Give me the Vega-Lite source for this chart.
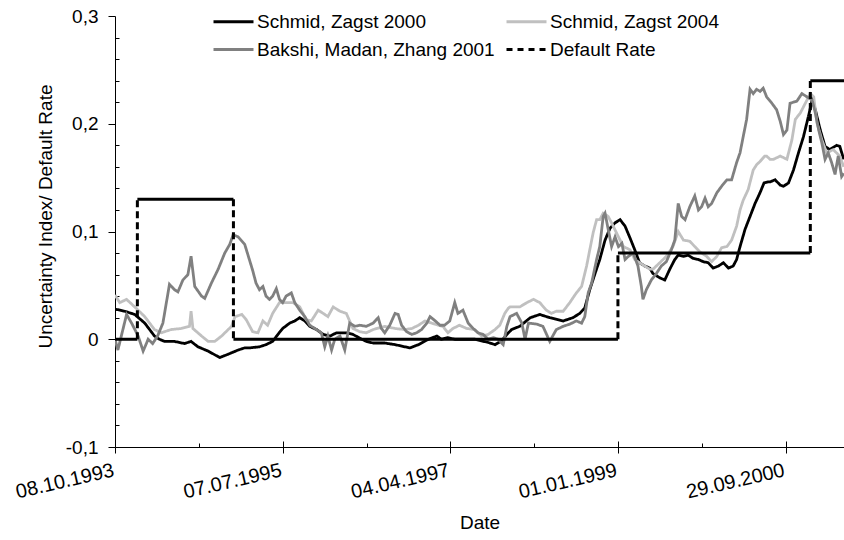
{
"$schema": "https://vega.github.io/schema/vega-lite/v6.json",
"width": 729, "height": 431,
"autosize": {"type": "none"},
"padding": {"left": 115, "top": 16, "right": 0, "bottom": 93},
"config": {
 "view": {"stroke": null},
 "font": "Liberation Sans",
 "axis": {"grid": false, "domainColor": "#000", "tickColor": "#000", "labelColor": "#000", "titleColor": "#000", "labelFontSize": 19, "titleFontSize": 19, "titleFontWeight": "normal", "domainWidth": 1, "tickWidth": 1},
 "legend": {"orient": "none", "legendX": 107, "legendY": -6, "columns": 2, "symbolType": "M-2,0H2", "symbolSize": 400, "symbolStrokeWidth": 3, "labelFontSize": 19, "labelColor": "#000", "labelOffset": 12, "labelLimit": 400, "columnPadding": 5, "rowPadding": 6, "padding": 0}
},
"datasets": {
 "series": [
  {"d":"1993-10-08","s":"Schmid, Zagst 2000","v":0.028},
  {"d":"1993-11-14","s":"Schmid, Zagst 2000","v":0.026},
  {"d":"1993-12-22","s":"Schmid, Zagst 2000","v":0.023},
  {"d":"1994-01-29","s":"Schmid, Zagst 2000","v":0.015},
  {"d":"1994-03-07","s":"Schmid, Zagst 2000","v":0.003},
  {"d":"1994-03-26","s":"Schmid, Zagst 2000","v":0.0},
  {"d":"1994-04-14","s":"Schmid, Zagst 2000","v":-0.002},
  {"d":"1994-05-22","s":"Schmid, Zagst 2000","v":-0.002},
  {"d":"1994-06-29","s":"Schmid, Zagst 2000","v":-0.004},
  {"d":"1994-07-24","s":"Schmid, Zagst 2000","v":-0.002},
  {"d":"1994-08-19","s":"Schmid, Zagst 2000","v":-0.007},
  {"d":"1994-09-27","s":"Schmid, Zagst 2000","v":-0.011},
  {"d":"1994-11-10","s":"Schmid, Zagst 2000","v":-0.017},
  {"d":"1994-12-11","s":"Schmid, Zagst 2000","v":-0.014},
  {"d":"1995-01-19","s":"Schmid, Zagst 2000","v":-0.010},
  {"d":"1995-02-13","s":"Schmid, Zagst 2000","v":-0.008},
  {"d":"1995-03-03","s":"Schmid, Zagst 2000","v":-0.008},
  {"d":"1995-04-10","s":"Schmid, Zagst 2000","v":-0.007},
  {"d":"1995-05-05","s":"Schmid, Zagst 2000","v":-0.005},
  {"d":"1995-05-30","s":"Schmid, Zagst 2000","v":-0.002},
  {"d":"1995-06-19","s":"Schmid, Zagst 2000","v":0.0045},
  {"d":"1995-07-07","s":"Schmid, Zagst 2000","v":0.010},
  {"d":"1995-08-03","s":"Schmid, Zagst 2000","v":0.015},
  {"d":"1995-08-22","s":"Schmid, Zagst 2000","v":0.017},
  {"d":"1995-09-10","s":"Schmid, Zagst 2000","v":0.020},
  {"d":"1995-09-29","s":"Schmid, Zagst 2000","v":0.017},
  {"d":"1995-10-18","s":"Schmid, Zagst 2000","v":0.012},
  {"d":"1995-11-13","s":"Schmid, Zagst 2000","v":0.009},
  {"d":"1995-12-08","s":"Schmid, Zagst 2000","v":0.0045},
  {"d":"1996-01-03","s":"Schmid, Zagst 2000","v":0.003},
  {"d":"1996-01-28","s":"Schmid, Zagst 2000","v":0.006},
  {"d":"1996-03-05","s":"Schmid, Zagst 2000","v":0.006},
  {"d":"1996-03-30","s":"Schmid, Zagst 2000","v":0.0045},
  {"d":"1996-04-25","s":"Schmid, Zagst 2000","v":0.001},
  {"d":"1996-05-20","s":"Schmid, Zagst 2000","v":-0.002},
  {"d":"1996-06-15","s":"Schmid, Zagst 2000","v":-0.0035},
  {"d":"1996-07-29","s":"Schmid, Zagst 2000","v":-0.0035},
  {"d":"1996-09-06","s":"Schmid, Zagst 2000","v":-0.005},
  {"d":"1996-10-13","s":"Schmid, Zagst 2000","v":-0.007},
  {"d":"1996-11-02","s":"Schmid, Zagst 2000","v":-0.008},
  {"d":"1996-12-04","s":"Schmid, Zagst 2000","v":-0.005},
  {"d":"1997-01-11","s":"Schmid, Zagst 2000","v":0.0},
  {"d":"1997-02-12","s":"Schmid, Zagst 2000","v":0.003},
  {"d":"1997-03-01","s":"Schmid, Zagst 2000","v":0.0},
  {"d":"1997-03-26","s":"Schmid, Zagst 2000","v":0.0015},
  {"d":"1997-04-21","s":"Schmid, Zagst 2000","v":0.0},
  {"d":"1997-05-28","s":"Schmid, Zagst 2000","v":0.0},
  {"d":"1997-07-06","s":"Schmid, Zagst 2000","v":0.0},
  {"d":"1997-08-01","s":"Schmid, Zagst 2000","v":-0.0015},
  {"d":"1997-08-26","s":"Schmid, Zagst 2000","v":-0.003},
  {"d":"1997-09-21","s":"Schmid, Zagst 2000","v":-0.005},
  {"d":"1997-10-16","s":"Schmid, Zagst 2000","v":-0.0015},
  {"d":"1997-11-05","s":"Schmid, Zagst 2000","v":0.0045},
  {"d":"1997-11-23","s":"Schmid, Zagst 2000","v":0.009},
  {"d":"1997-12-24","s":"Schmid, Zagst 2000","v":0.012},
  {"d":"1998-02-02","s":"Schmid, Zagst 2000","v":0.020},
  {"d":"1998-03-10","s":"Schmid, Zagst 2000","v":0.023},
  {"d":"1998-04-17","s":"Schmid, Zagst 2000","v":0.020},
  {"d":"1998-06-07","s":"Schmid, Zagst 2000","v":0.017},
  {"d":"1998-07-14","s":"Schmid, Zagst 2000","v":0.020},
  {"d":"1998-08-09","s":"Schmid, Zagst 2000","v":0.024},
  {"d":"1998-08-28","s":"Schmid, Zagst 2000","v":0.029},
  {"d":"1998-09-16","s":"Schmid, Zagst 2000","v":0.046},
  {"d":"1998-10-06","s":"Schmid, Zagst 2000","v":0.061},
  {"d":"1998-10-24","s":"Schmid, Zagst 2000","v":0.074},
  {"d":"1998-11-13","s":"Schmid, Zagst 2000","v":0.092},
  {"d":"1998-12-02","s":"Schmid, Zagst 2000","v":0.103},
  {"d":"1998-12-21","s":"Schmid, Zagst 2000","v":0.108},
  {"d":"1999-01-09","s":"Schmid, Zagst 2000","v":0.111},
  {"d":"1999-01-28","s":"Schmid, Zagst 2000","v":0.105},
  {"d":"1999-02-16","s":"Schmid, Zagst 2000","v":0.094},
  {"d":"1999-03-06","s":"Schmid, Zagst 2000","v":0.083},
  {"d":"1999-03-24","s":"Schmid, Zagst 2000","v":0.071},
  {"d":"1999-04-13","s":"Schmid, Zagst 2000","v":0.068},
  {"d":"1999-05-02","s":"Schmid, Zagst 2000","v":0.066},
  {"d":"1999-05-14","s":"Schmid, Zagst 2000","v":0.061},
  {"d":"1999-06-09","s":"Schmid, Zagst 2000","v":0.057},
  {"d":"1999-06-28","s":"Schmid, Zagst 2000","v":0.055},
  {"d":"1999-07-17","s":"Schmid, Zagst 2000","v":0.065},
  {"d":"1999-08-05","s":"Schmid, Zagst 2000","v":0.074},
  {"d":"1999-08-18","s":"Schmid, Zagst 2000","v":0.078},
  {"d":"1999-09-07","s":"Schmid, Zagst 2000","v":0.077},
  {"d":"1999-09-25","s":"Schmid, Zagst 2000","v":0.078},
  {"d":"1999-10-14","s":"Schmid, Zagst 2000","v":0.075},
  {"d":"1999-11-03","s":"Schmid, Zagst 2000","v":0.074},
  {"d":"1999-11-21","s":"Schmid, Zagst 2000","v":0.072},
  {"d":"1999-12-10","s":"Schmid, Zagst 2000","v":0.071},
  {"d":"1999-12-29","s":"Schmid, Zagst 2000","v":0.066},
  {"d":"2000-01-18","s":"Schmid, Zagst 2000","v":0.068},
  {"d":"2000-02-06","s":"Schmid, Zagst 2000","v":0.071},
  {"d":"2000-02-25","s":"Schmid, Zagst 2000","v":0.066},
  {"d":"2000-03-14","s":"Schmid, Zagst 2000","v":0.068},
  {"d":"2000-03-27","s":"Schmid, Zagst 2000","v":0.074},
  {"d":"2000-04-09","s":"Schmid, Zagst 2000","v":0.086},
  {"d":"2000-04-28","s":"Schmid, Zagst 2000","v":0.102},
  {"d":"2000-05-17","s":"Schmid, Zagst 2000","v":0.114},
  {"d":"2000-06-05","s":"Schmid, Zagst 2000","v":0.126},
  {"d":"2000-06-24","s":"Schmid, Zagst 2000","v":0.136},
  {"d":"2000-07-09","s":"Schmid, Zagst 2000","v":0.145},
  {"d":"2000-07-25","s":"Schmid, Zagst 2000","v":0.146},
  {"d":"2000-08-01","s":"Schmid, Zagst 2000","v":0.146},
  {"d":"2000-08-20","s":"Schmid, Zagst 2000","v":0.148},
  {"d":"2000-09-09","s":"Schmid, Zagst 2000","v":0.143},
  {"d":"2000-09-21","s":"Schmid, Zagst 2000","v":0.142},
  {"d":"2000-10-10","s":"Schmid, Zagst 2000","v":0.145},
  {"d":"2000-10-29","s":"Schmid, Zagst 2000","v":0.157},
  {"d":"2000-11-17","s":"Schmid, Zagst 2000","v":0.173},
  {"d":"2000-12-06","s":"Schmid, Zagst 2000","v":0.188},
  {"d":"2000-12-25","s":"Schmid, Zagst 2000","v":0.207},
  {"d":"2001-01-08","s":"Schmid, Zagst 2000","v":0.222},
  {"d":"2001-01-20","s":"Schmid, Zagst 2000","v":0.213},
  {"d":"2001-02-08","s":"Schmid, Zagst 2000","v":0.194},
  {"d":"2001-02-26","s":"Schmid, Zagst 2000","v":0.179},
  {"d":"2001-03-16","s":"Schmid, Zagst 2000","v":0.176},
  {"d":"2001-04-11","s":"Schmid, Zagst 2000","v":0.180},
  {"d":"2001-04-23","s":"Schmid, Zagst 2000","v":0.179},
  {"d":"2001-05-08","s":"Schmid, Zagst 2000","v":0.167},

  {"d":"1993-10-08","s":"Schmid, Zagst 2004","v":0.041},
  {"d":"1993-10-26","s":"Schmid, Zagst 2004","v":0.034},
  {"d":"1993-11-21","s":"Schmid, Zagst 2004","v":0.037},
  {"d":"1993-12-22","s":"Schmid, Zagst 2004","v":0.030},
  {"d":"1994-01-29","s":"Schmid, Zagst 2004","v":0.021},
  {"d":"1994-03-07","s":"Schmid, Zagst 2004","v":0.009},
  {"d":"1994-04-02","s":"Schmid, Zagst 2004","v":0.006},
  {"d":"1994-05-09","s":"Schmid, Zagst 2004","v":0.009},
  {"d":"1994-06-17","s":"Schmid, Zagst 2004","v":0.010},
  {"d":"1994-07-18","s":"Schmid, Zagst 2004","v":0.012},
  {"d":"1994-07-24","s":"Schmid, Zagst 2004","v":0.026},
  {"d":"1994-07-31","s":"Schmid, Zagst 2004","v":0.010},
  {"d":"1994-09-02","s":"Schmid, Zagst 2004","v":0.003},
  {"d":"1994-09-27","s":"Schmid, Zagst 2004","v":-0.002},
  {"d":"1994-10-22","s":"Schmid, Zagst 2004","v":-0.002},
  {"d":"1994-11-17","s":"Schmid, Zagst 2004","v":0.003},
  {"d":"1994-12-25","s":"Schmid, Zagst 2004","v":0.012},
  {"d":"1995-01-07","s":"Schmid, Zagst 2004","v":0.021},
  {"d":"1995-02-02","s":"Schmid, Zagst 2004","v":0.023},
  {"d":"1995-02-19","s":"Schmid, Zagst 2004","v":0.018},
  {"d":"1995-03-15","s":"Schmid, Zagst 2004","v":0.007},
  {"d":"1995-04-04","s":"Schmid, Zagst 2004","v":0.006},
  {"d":"1995-04-23","s":"Schmid, Zagst 2004","v":0.017},
  {"d":"1995-05-11","s":"Schmid, Zagst 2004","v":0.013},
  {"d":"1995-05-30","s":"Schmid, Zagst 2004","v":0.024},
  {"d":"1995-06-25","s":"Schmid, Zagst 2004","v":0.034},
  {"d":"1995-07-20","s":"Schmid, Zagst 2004","v":0.034},
  {"d":"1995-08-15","s":"Schmid, Zagst 2004","v":0.034},
  {"d":"1995-09-10","s":"Schmid, Zagst 2004","v":0.030},
  {"d":"1995-10-05","s":"Schmid, Zagst 2004","v":0.018},
  {"d":"1995-10-24","s":"Schmid, Zagst 2004","v":0.017},
  {"d":"1995-11-19","s":"Schmid, Zagst 2004","v":0.027},
  {"d":"1995-12-08","s":"Schmid, Zagst 2004","v":0.024},
  {"d":"1995-12-26","s":"Schmid, Zagst 2004","v":0.021},
  {"d":"1996-01-15","s":"Schmid, Zagst 2004","v":0.030},
  {"d":"1996-02-10","s":"Schmid, Zagst 2004","v":0.026},
  {"d":"1996-03-05","s":"Schmid, Zagst 2004","v":0.024},
  {"d":"1996-03-30","s":"Schmid, Zagst 2004","v":0.010},
  {"d":"1996-04-25","s":"Schmid, Zagst 2004","v":0.007},
  {"d":"1996-05-20","s":"Schmid, Zagst 2004","v":0.006},
  {"d":"1996-06-15","s":"Schmid, Zagst 2004","v":0.009},
  {"d":"1996-07-29","s":"Schmid, Zagst 2004","v":0.012},
  {"d":"1996-09-06","s":"Schmid, Zagst 2004","v":0.010},
  {"d":"1996-10-13","s":"Schmid, Zagst 2004","v":0.009},
  {"d":"1996-11-09","s":"Schmid, Zagst 2004","v":0.010},
  {"d":"1996-12-04","s":"Schmid, Zagst 2004","v":0.013},
  {"d":"1996-12-29","s":"Schmid, Zagst 2004","v":0.017},
  {"d":"1997-01-23","s":"Schmid, Zagst 2004","v":0.015},
  {"d":"1997-02-18","s":"Schmid, Zagst 2004","v":0.013},
  {"d":"1997-03-07","s":"Schmid, Zagst 2004","v":0.012},
  {"d":"1997-03-26","s":"Schmid, Zagst 2004","v":0.006},
  {"d":"1997-04-14","s":"Schmid, Zagst 2004","v":0.010},
  {"d":"1997-05-09","s":"Schmid, Zagst 2004","v":0.013},
  {"d":"1997-06-05","s":"Schmid, Zagst 2004","v":0.010},
  {"d":"1997-07-06","s":"Schmid, Zagst 2004","v":0.009},
  {"d":"1997-08-01","s":"Schmid, Zagst 2004","v":0.003},
  {"d":"1997-08-26","s":"Schmid, Zagst 2004","v":0.0045},
  {"d":"1997-09-21","s":"Schmid, Zagst 2004","v":0.009},
  {"d":"1997-10-09","s":"Schmid, Zagst 2004","v":0.013},
  {"d":"1997-10-28","s":"Schmid, Zagst 2004","v":0.024},
  {"d":"1997-11-11","s":"Schmid, Zagst 2004","v":0.029},
  {"d":"1997-11-17","s":"Schmid, Zagst 2004","v":0.030},
  {"d":"1997-12-24","s":"Schmid, Zagst 2004","v":0.030},
  {"d":"1998-01-20","s":"Schmid, Zagst 2004","v":0.034},
  {"d":"1998-02-14","s":"Schmid, Zagst 2004","v":0.037},
  {"d":"1998-03-10","s":"Schmid, Zagst 2004","v":0.034},
  {"d":"1998-04-04","s":"Schmid, Zagst 2004","v":0.027},
  {"d":"1998-04-23","s":"Schmid, Zagst 2004","v":0.024},
  {"d":"1998-05-12","s":"Schmid, Zagst 2004","v":0.026},
  {"d":"1998-06-07","s":"Schmid, Zagst 2004","v":0.026},
  {"d":"1998-07-02","s":"Schmid, Zagst 2004","v":0.034},
  {"d":"1998-07-27","s":"Schmid, Zagst 2004","v":0.043},
  {"d":"1998-08-16","s":"Schmid, Zagst 2004","v":0.049},
  {"d":"1998-09-04","s":"Schmid, Zagst 2004","v":0.068},
  {"d":"1998-09-16","s":"Schmid, Zagst 2004","v":0.083},
  {"d":"1998-09-29","s":"Schmid, Zagst 2004","v":0.099},
  {"d":"1998-10-12","s":"Schmid, Zagst 2004","v":0.111},
  {"d":"1998-10-24","s":"Schmid, Zagst 2004","v":0.111},
  {"d":"1998-11-06","s":"Schmid, Zagst 2004","v":0.117},
  {"d":"1998-11-25","s":"Schmid, Zagst 2004","v":0.114},
  {"d":"1998-12-14","s":"Schmid, Zagst 2004","v":0.105},
  {"d":"1999-01-03","s":"Schmid, Zagst 2004","v":0.095},
  {"d":"1999-01-22","s":"Schmid, Zagst 2004","v":0.086},
  {"d":"1999-02-16","s":"Schmid, Zagst 2004","v":0.083},
  {"d":"1999-03-06","s":"Schmid, Zagst 2004","v":0.074},
  {"d":"1999-03-24","s":"Schmid, Zagst 2004","v":0.071},
  {"d":"1999-04-13","s":"Schmid, Zagst 2004","v":0.068},
  {"d":"1999-05-02","s":"Schmid, Zagst 2004","v":0.065},
  {"d":"1999-05-14","s":"Schmid, Zagst 2004","v":0.065},
  {"d":"1999-06-09","s":"Schmid, Zagst 2004","v":0.071},
  {"d":"1999-07-04","s":"Schmid, Zagst 2004","v":0.077},
  {"d":"1999-07-29","s":"Schmid, Zagst 2004","v":0.086},
  {"d":"1999-08-18","s":"Schmid, Zagst 2004","v":0.100},
  {"d":"1999-09-07","s":"Schmid, Zagst 2004","v":0.092},
  {"d":"1999-10-01","s":"Schmid, Zagst 2004","v":0.091},
  {"d":"1999-10-20","s":"Schmid, Zagst 2004","v":0.086},
  {"d":"1999-11-09","s":"Schmid, Zagst 2004","v":0.081},
  {"d":"1999-12-04","s":"Schmid, Zagst 2004","v":0.077},
  {"d":"1999-12-23","s":"Schmid, Zagst 2004","v":0.072},
  {"d":"2000-01-12","s":"Schmid, Zagst 2004","v":0.077},
  {"d":"2000-01-30","s":"Schmid, Zagst 2004","v":0.085},
  {"d":"2000-02-19","s":"Schmid, Zagst 2004","v":0.086},
  {"d":"2000-03-08","s":"Schmid, Zagst 2004","v":0.092},
  {"d":"2000-03-27","s":"Schmid, Zagst 2004","v":0.105},
  {"d":"2000-04-09","s":"Schmid, Zagst 2004","v":0.120},
  {"d":"2000-04-21","s":"Schmid, Zagst 2004","v":0.129},
  {"d":"2000-05-10","s":"Schmid, Zagst 2004","v":0.139},
  {"d":"2000-05-29","s":"Schmid, Zagst 2004","v":0.157},
  {"d":"2000-06-11","s":"Schmid, Zagst 2004","v":0.162},
  {"d":"2000-06-24","s":"Schmid, Zagst 2004","v":0.165},
  {"d":"2000-07-12","s":"Schmid, Zagst 2004","v":0.170},
  {"d":"2000-07-19","s":"Schmid, Zagst 2004","v":0.170},
  {"d":"2000-08-01","s":"Schmid, Zagst 2004","v":0.167},
  {"d":"2000-08-14","s":"Schmid, Zagst 2004","v":0.167},
  {"d":"2000-09-09","s":"Schmid, Zagst 2004","v":0.170},
  {"d":"2000-10-04","s":"Schmid, Zagst 2004","v":0.167},
  {"d":"2000-10-23","s":"Schmid, Zagst 2004","v":0.185},
  {"d":"2000-11-05","s":"Schmid, Zagst 2004","v":0.204},
  {"d":"2000-11-24","s":"Schmid, Zagst 2004","v":0.210},
  {"d":"2000-12-13","s":"Schmid, Zagst 2004","v":0.219},
  {"d":"2001-01-01","s":"Schmid, Zagst 2004","v":0.228},
  {"d":"2001-01-14","s":"Schmid, Zagst 2004","v":0.225},
  {"d":"2001-01-26","s":"Schmid, Zagst 2004","v":0.201},
  {"d":"2001-02-14","s":"Schmid, Zagst 2004","v":0.185},
  {"d":"2001-03-04","s":"Schmid, Zagst 2004","v":0.173},
  {"d":"2001-03-29","s":"Schmid, Zagst 2004","v":0.176},
  {"d":"2001-04-23","s":"Schmid, Zagst 2004","v":0.170},
  {"d":"2001-05-08","s":"Schmid, Zagst 2004","v":0.160},

  {"d":"1993-10-08","s":"Bakshi, Madan, Zhang 2001","v":0.0},
  {"d":"1993-10-19","s":"Bakshi, Madan, Zhang 2001","v":-0.010},
  {"d":"1993-11-21","s":"Bakshi, Madan, Zhang 2001","v":0.023},
  {"d":"1993-12-10","s":"Bakshi, Madan, Zhang 2001","v":0.015},
  {"d":"1994-01-04","s":"Bakshi, Madan, Zhang 2001","v":0.003},
  {"d":"1994-01-23","s":"Bakshi, Madan, Zhang 2001","v":-0.011},
  {"d":"1994-02-11","s":"Bakshi, Madan, Zhang 2001","v":0.0},
  {"d":"1994-02-28","s":"Bakshi, Madan, Zhang 2001","v":-0.004},
  {"d":"1994-03-19","s":"Bakshi, Madan, Zhang 2001","v":0.003},
  {"d":"1994-04-08","s":"Bakshi, Madan, Zhang 2001","v":0.015},
  {"d":"1994-05-03","s":"Bakshi, Madan, Zhang 2001","v":0.051},
  {"d":"1994-05-22","s":"Bakshi, Madan, Zhang 2001","v":0.046},
  {"d":"1994-06-04","s":"Bakshi, Madan, Zhang 2001","v":0.044},
  {"d":"1994-06-23","s":"Bakshi, Madan, Zhang 2001","v":0.055},
  {"d":"1994-07-12","s":"Bakshi, Madan, Zhang 2001","v":0.060},
  {"d":"1994-07-24","s":"Bakshi, Madan, Zhang 2001","v":0.077},
  {"d":"1994-08-07","s":"Bakshi, Madan, Zhang 2001","v":0.049},
  {"d":"1994-09-02","s":"Bakshi, Madan, Zhang 2001","v":0.040},
  {"d":"1994-09-14","s":"Bakshi, Madan, Zhang 2001","v":0.038},
  {"d":"1994-10-09","s":"Bakshi, Madan, Zhang 2001","v":0.052},
  {"d":"1994-11-04","s":"Bakshi, Madan, Zhang 2001","v":0.065},
  {"d":"1994-11-29","s":"Bakshi, Madan, Zhang 2001","v":0.080},
  {"d":"1994-12-18","s":"Bakshi, Madan, Zhang 2001","v":0.088},
  {"d":"1994-12-31","s":"Bakshi, Madan, Zhang 2001","v":0.097},
  {"d":"1995-01-19","s":"Bakshi, Madan, Zhang 2001","v":0.095},
  {"d":"1995-02-13","s":"Bakshi, Madan, Zhang 2001","v":0.088},
  {"d":"1995-03-15","s":"Bakshi, Madan, Zhang 2001","v":0.064},
  {"d":"1995-03-28","s":"Bakshi, Madan, Zhang 2001","v":0.052},
  {"d":"1995-04-10","s":"Bakshi, Madan, Zhang 2001","v":0.046},
  {"d":"1995-04-23","s":"Bakshi, Madan, Zhang 2001","v":0.049},
  {"d":"1995-05-05","s":"Bakshi, Madan, Zhang 2001","v":0.040},
  {"d":"1995-05-18","s":"Bakshi, Madan, Zhang 2001","v":0.037},
  {"d":"1995-05-30","s":"Bakshi, Madan, Zhang 2001","v":0.040},
  {"d":"1995-06-13","s":"Bakshi, Madan, Zhang 2001","v":0.047},
  {"d":"1995-06-25","s":"Bakshi, Madan, Zhang 2001","v":0.037},
  {"d":"1995-07-07","s":"Bakshi, Madan, Zhang 2001","v":0.034},
  {"d":"1995-07-20","s":"Bakshi, Madan, Zhang 2001","v":0.040},
  {"d":"1995-08-09","s":"Bakshi, Madan, Zhang 2001","v":0.043},
  {"d":"1995-08-22","s":"Bakshi, Madan, Zhang 2001","v":0.034},
  {"d":"1995-09-10","s":"Bakshi, Madan, Zhang 2001","v":0.027},
  {"d":"1995-09-29","s":"Bakshi, Madan, Zhang 2001","v":0.021},
  {"d":"1995-10-18","s":"Bakshi, Madan, Zhang 2001","v":0.013},
  {"d":"1995-11-13","s":"Bakshi, Madan, Zhang 2001","v":0.009},
  {"d":"1995-12-01","s":"Bakshi, Madan, Zhang 2001","v":0.006},
  {"d":"1995-12-14","s":"Bakshi, Madan, Zhang 2001","v":-0.007},
  {"d":"1995-12-26","s":"Bakshi, Madan, Zhang 2001","v":0.003},
  {"d":"1996-01-09","s":"Bakshi, Madan, Zhang 2001","v":-0.010},
  {"d":"1996-01-21","s":"Bakshi, Madan, Zhang 2001","v":0.0},
  {"d":"1996-02-10","s":"Bakshi, Madan, Zhang 2001","v":0.003},
  {"d":"1996-02-28","s":"Bakshi, Madan, Zhang 2001","v":-0.010},
  {"d":"1996-03-18","s":"Bakshi, Madan, Zhang 2001","v":0.015},
  {"d":"1996-04-06","s":"Bakshi, Madan, Zhang 2001","v":0.012},
  {"d":"1996-04-25","s":"Bakshi, Madan, Zhang 2001","v":0.013},
  {"d":"1996-05-20","s":"Bakshi, Madan, Zhang 2001","v":0.012},
  {"d":"1996-06-15","s":"Bakshi, Madan, Zhang 2001","v":0.015},
  {"d":"1996-07-04","s":"Bakshi, Madan, Zhang 2001","v":0.020},
  {"d":"1996-07-16","s":"Bakshi, Madan, Zhang 2001","v":0.010},
  {"d":"1996-07-29","s":"Bakshi, Madan, Zhang 2001","v":0.006},
  {"d":"1996-08-17","s":"Bakshi, Madan, Zhang 2001","v":0.013},
  {"d":"1996-09-06","s":"Bakshi, Madan, Zhang 2001","v":0.024},
  {"d":"1996-09-18","s":"Bakshi, Madan, Zhang 2001","v":0.023},
  {"d":"1996-10-01","s":"Bakshi, Madan, Zhang 2001","v":0.013},
  {"d":"1996-10-20","s":"Bakshi, Madan, Zhang 2001","v":0.007},
  {"d":"1996-11-09","s":"Bakshi, Madan, Zhang 2001","v":0.0045},
  {"d":"1996-11-27","s":"Bakshi, Madan, Zhang 2001","v":0.006},
  {"d":"1996-12-16","s":"Bakshi, Madan, Zhang 2001","v":0.009},
  {"d":"1997-01-05","s":"Bakshi, Madan, Zhang 2001","v":0.015},
  {"d":"1997-01-17","s":"Bakshi, Madan, Zhang 2001","v":0.021},
  {"d":"1997-02-06","s":"Bakshi, Madan, Zhang 2001","v":0.017},
  {"d":"1997-02-24","s":"Bakshi, Madan, Zhang 2001","v":0.013},
  {"d":"1997-03-13","s":"Bakshi, Madan, Zhang 2001","v":0.013},
  {"d":"1997-04-02","s":"Bakshi, Madan, Zhang 2001","v":0.017},
  {"d":"1997-04-21","s":"Bakshi, Madan, Zhang 2001","v":0.034},
  {"d":"1997-05-03","s":"Bakshi, Madan, Zhang 2001","v":0.024},
  {"d":"1997-05-22","s":"Bakshi, Madan, Zhang 2001","v":0.027},
  {"d":"1997-06-11","s":"Bakshi, Madan, Zhang 2001","v":0.015},
  {"d":"1997-06-30","s":"Bakshi, Madan, Zhang 2001","v":0.010},
  {"d":"1997-07-18","s":"Bakshi, Madan, Zhang 2001","v":0.006},
  {"d":"1997-08-07","s":"Bakshi, Madan, Zhang 2001","v":0.0045},
  {"d":"1997-08-26","s":"Bakshi, Madan, Zhang 2001","v":0.0},
  {"d":"1997-09-14","s":"Bakshi, Madan, Zhang 2001","v":0.0015},
  {"d":"1997-10-03","s":"Bakshi, Madan, Zhang 2001","v":0.0},
  {"d":"1997-10-22","s":"Bakshi, Madan, Zhang 2001","v":-0.005},
  {"d":"1997-11-05","s":"Bakshi, Madan, Zhang 2001","v":0.012},
  {"d":"1997-11-17","s":"Bakshi, Madan, Zhang 2001","v":0.021},
  {"d":"1997-12-12","s":"Bakshi, Madan, Zhang 2001","v":0.024},
  {"d":"1998-01-01","s":"Bakshi, Madan, Zhang 2001","v":0.015},
  {"d":"1998-01-13","s":"Bakshi, Madan, Zhang 2001","v":0.0},
  {"d":"1998-01-26","s":"Bakshi, Madan, Zhang 2001","v":0.015},
  {"d":"1998-02-27","s":"Bakshi, Madan, Zhang 2001","v":0.014},
  {"d":"1998-03-22","s":"Bakshi, Madan, Zhang 2001","v":0.012},
  {"d":"1998-04-17","s":"Bakshi, Madan, Zhang 2001","v":-0.002},
  {"d":"1998-05-12","s":"Bakshi, Madan, Zhang 2001","v":0.009},
  {"d":"1998-06-07","s":"Bakshi, Madan, Zhang 2001","v":0.012},
  {"d":"1998-07-02","s":"Bakshi, Madan, Zhang 2001","v":0.014},
  {"d":"1998-07-27","s":"Bakshi, Madan, Zhang 2001","v":0.017},
  {"d":"1998-08-16","s":"Bakshi, Madan, Zhang 2001","v":0.015},
  {"d":"1998-08-28","s":"Bakshi, Madan, Zhang 2001","v":0.021},
  {"d":"1998-09-10","s":"Bakshi, Madan, Zhang 2001","v":0.043},
  {"d":"1998-09-23","s":"Bakshi, Madan, Zhang 2001","v":0.052},
  {"d":"1998-10-12","s":"Bakshi, Madan, Zhang 2001","v":0.074},
  {"d":"1998-10-24","s":"Bakshi, Madan, Zhang 2001","v":0.086},
  {"d":"1998-11-06","s":"Bakshi, Madan, Zhang 2001","v":0.114},
  {"d":"1998-11-13","s":"Bakshi, Madan, Zhang 2001","v":0.117},
  {"d":"1998-11-25","s":"Bakshi, Madan, Zhang 2001","v":0.102},
  {"d":"1998-12-08","s":"Bakshi, Madan, Zhang 2001","v":0.086},
  {"d":"1998-12-21","s":"Bakshi, Madan, Zhang 2001","v":0.095},
  {"d":"1999-01-03","s":"Bakshi, Madan, Zhang 2001","v":0.086},
  {"d":"1999-01-16","s":"Bakshi, Madan, Zhang 2001","v":0.089},
  {"d":"1999-01-28","s":"Bakshi, Madan, Zhang 2001","v":0.074},
  {"d":"1999-02-10","s":"Bakshi, Madan, Zhang 2001","v":0.077},
  {"d":"1999-02-28","s":"Bakshi, Madan, Zhang 2001","v":0.080},
  {"d":"1999-03-18","s":"Bakshi, Madan, Zhang 2001","v":0.068},
  {"d":"1999-03-31","s":"Bakshi, Madan, Zhang 2001","v":0.049},
  {"d":"1999-04-06","s":"Bakshi, Madan, Zhang 2001","v":0.037},
  {"d":"1999-04-19","s":"Bakshi, Madan, Zhang 2001","v":0.046},
  {"d":"1999-05-08","s":"Bakshi, Madan, Zhang 2001","v":0.055},
  {"d":"1999-05-27","s":"Bakshi, Madan, Zhang 2001","v":0.061},
  {"d":"1999-06-15","s":"Bakshi, Madan, Zhang 2001","v":0.068},
  {"d":"1999-07-04","s":"Bakshi, Madan, Zhang 2001","v":0.072},
  {"d":"1999-07-23","s":"Bakshi, Madan, Zhang 2001","v":0.083},
  {"d":"1999-08-05","s":"Bakshi, Madan, Zhang 2001","v":0.092},
  {"d":"1999-08-18","s":"Bakshi, Madan, Zhang 2001","v":0.126},
  {"d":"1999-08-31","s":"Bakshi, Madan, Zhang 2001","v":0.114},
  {"d":"1999-09-13","s":"Bakshi, Madan, Zhang 2001","v":0.111},
  {"d":"1999-10-01","s":"Bakshi, Madan, Zhang 2001","v":0.123},
  {"d":"1999-10-20","s":"Bakshi, Madan, Zhang 2001","v":0.133},
  {"d":"1999-11-03","s":"Bakshi, Madan, Zhang 2001","v":0.120},
  {"d":"1999-11-15","s":"Bakshi, Madan, Zhang 2001","v":0.123},
  {"d":"1999-11-28","s":"Bakshi, Madan, Zhang 2001","v":0.131},
  {"d":"1999-12-10","s":"Bakshi, Madan, Zhang 2001","v":0.123},
  {"d":"1999-12-23","s":"Bakshi, Madan, Zhang 2001","v":0.126},
  {"d":"2000-01-12","s":"Bakshi, Madan, Zhang 2001","v":0.136},
  {"d":"2000-01-30","s":"Bakshi, Madan, Zhang 2001","v":0.142},
  {"d":"2000-02-19","s":"Bakshi, Madan, Zhang 2001","v":0.148},
  {"d":"2000-03-08","s":"Bakshi, Madan, Zhang 2001","v":0.148},
  {"d":"2000-03-27","s":"Bakshi, Madan, Zhang 2001","v":0.164},
  {"d":"2000-04-09","s":"Bakshi, Madan, Zhang 2001","v":0.173},
  {"d":"2000-04-21","s":"Bakshi, Madan, Zhang 2001","v":0.188},
  {"d":"2000-05-04","s":"Bakshi, Madan, Zhang 2001","v":0.204},
  {"d":"2000-05-17","s":"Bakshi, Madan, Zhang 2001","v":0.232},
  {"d":"2000-05-29","s":"Bakshi, Madan, Zhang 2001","v":0.228},
  {"d":"2000-06-11","s":"Bakshi, Madan, Zhang 2001","v":0.232},
  {"d":"2000-06-24","s":"Bakshi, Madan, Zhang 2001","v":0.230},
  {"d":"2000-07-06","s":"Bakshi, Madan, Zhang 2001","v":0.233},
  {"d":"2000-07-19","s":"Bakshi, Madan, Zhang 2001","v":0.225},
  {"d":"2000-08-08","s":"Bakshi, Madan, Zhang 2001","v":0.219},
  {"d":"2000-08-26","s":"Bakshi, Madan, Zhang 2001","v":0.213},
  {"d":"2000-09-09","s":"Bakshi, Madan, Zhang 2001","v":0.202},
  {"d":"2000-09-21","s":"Bakshi, Madan, Zhang 2001","v":0.190},
  {"d":"2000-10-04","s":"Bakshi, Madan, Zhang 2001","v":0.194},
  {"d":"2000-10-16","s":"Bakshi, Madan, Zhang 2001","v":0.219},
  {"d":"2000-11-11","s":"Bakshi, Madan, Zhang 2001","v":0.221},
  {"d":"2000-11-30","s":"Bakshi, Madan, Zhang 2001","v":0.228},
  {"d":"2000-12-19","s":"Bakshi, Madan, Zhang 2001","v":0.225},
  {"d":"2001-01-08","s":"Bakshi, Madan, Zhang 2001","v":0.222},
  {"d":"2001-01-20","s":"Bakshi, Madan, Zhang 2001","v":0.210},
  {"d":"2001-02-02","s":"Bakshi, Madan, Zhang 2001","v":0.194},
  {"d":"2001-02-14","s":"Bakshi, Madan, Zhang 2001","v":0.182},
  {"d":"2001-02-26","s":"Bakshi, Madan, Zhang 2001","v":0.167},
  {"d":"2001-03-10","s":"Bakshi, Madan, Zhang 2001","v":0.173},
  {"d":"2001-03-23","s":"Bakshi, Madan, Zhang 2001","v":0.164},
  {"d":"2001-04-05","s":"Bakshi, Madan, Zhang 2001","v":0.153},
  {"d":"2001-04-17","s":"Bakshi, Madan, Zhang 2001","v":0.170},
  {"d":"2001-04-30","s":"Bakshi, Madan, Zhang 2001","v":0.151},
  {"d":"2001-05-08","s":"Bakshi, Madan, Zhang 2001","v":0.154}
 ],
 "dr": [
  {"from":"1993-10-08","to":"1994-01-01","rate":0,"prev":0},
  {"from":"1994-01-01","to":"1995-01-01","rate":0.13,"prev":0},
  {"from":"1995-01-01","to":"1999-01-01","rate":0,"prev":0.13},
  {"from":"1999-01-01","to":"2001-01-01","rate":0.08,"prev":0},
  {"from":"2001-01-01","to":"2001-05-09","rate":0.24,"prev":0.08}
 ]
},
"resolve": {"axis": {"x": "independent", "y": "independent"}},
"layer": [
 {
  "data": {"name": "series"},
  "mark": {"type": "line", "strokeWidth": 2.8, "clip": true},
  "encoding": {
   "x": {"field": "d", "type": "temporal",
    "scale": {"type": "utc", "domain": [{"year":1993,"month":10,"date":8,"utc":true},{"year":2001,"month":5,"date":9,"utc":true}]},
    "axis": {"orient": "bottom", "values": [{"year":1993,"month":10,"date":8,"utc":true},{"year":1995,"month":7,"date":7,"utc":true},{"year":1997,"month":4,"date":4,"utc":true},{"year":1999,"month":1,"date":1,"utc":true},{"year":2000,"month":9,"date":29,"utc":true}],
     "labelExpr": "utcFormat(datum.value, '%d.%m.%Y')", "labelAngle": -13, "labelAlign": "right", "labelBaseline": "top", "labelPadding": 7, "labelOffset": -4, "labelFontSize": 20, "tickSize": 6, "labelOverlap": false, "labelFlush": false, "title": "Date", "titleBaseline": "alphabetic", "titleY": 81}},
   "y": {"field": "v", "type": "quantitative",
    "scale": {"domain": [-0.1, 0.3], "nice": false, "zero": false},
    "axis": {"orient": "left", "values": [-0.1, 0, 0.1, 0.2, 0.3], "labelExpr": "datum.value == 0 ? '0' : replace(replace(format(datum.value, '.1f'), '.', ','), '\u2212', '-')", "tickSize": 7, "labelPadding": 10, "title": "Uncertainty Index/ Default Rate", "titleX": -70, "titleY": 200, "titleAlign": "center", "titleBaseline": "middle", "titleAngle": -90}},
   "color": {"field": "s", "type": "nominal",
    "scale": {"domain": ["Schmid, Zagst 2000", "Bakshi, Madan, Zhang 2001", "Schmid, Zagst 2004", "Default Rate"], "range": ["#000000", "#808080", "#c0c0c0", "#000000"]},
    "legend": {"title": null}},
   "strokeDash": {"field": "s", "type": "nominal",
    "scale": {"domain": ["Schmid, Zagst 2000", "Bakshi, Madan, Zhang 2001", "Schmid, Zagst 2004", "Default Rate"], "range": [[1, 0], [1, 0], [1, 0], [6, 5]]},
    "legend": {"title": null}}
  }
 },
 {
  "data": {"name": "dr"},
  "mark": {"type": "rule", "strokeWidth": 3, "color": "#000"},
  "encoding": {
   "x": {"field": "from", "type": "temporal", "axis": {"orient": "bottom", "values": [{"year":1993,"month":10,"date":8,"utc":true},{"year":1995,"month":7,"date":7,"utc":true},{"year":1997,"month":4,"date":4,"utc":true},{"year":1999,"month":1,"date":1,"utc":true},{"year":2000,"month":9,"date":29,"utc":true}], "tickSize": -6, "labels": false, "domain": false, "title": null}},
   "x2": {"field": "to"},
   "y": {"field": "rate", "type": "quantitative", "axis": {"orient": "left", "values": [-0.08,-0.06,-0.04,-0.02,0.02,0.04,0.06,0.08,0.12,0.14,0.16,0.18,0.22,0.24,0.26,0.28], "tickSize": -4, "labels": false, "domain": false, "title": null}}
  }
 },
 {
  "data": {"name": "dr"},
  "mark": {"type": "rule", "strokeWidth": 3, "color": "#000", "strokeDash": [7, 4]},
  "encoding": {
   "x": {"field": "from", "type": "temporal", "axis": {"orient": "bottom", "values": [{"year":1994,"month":8,"date":22,"utc":true},{"year":1996,"month":5,"date":21,"utc":true},{"year":1998,"month":2,"date":17,"utc":true},{"year":1999,"month":11,"date":15,"utc":true}], "tickSize": -4, "labels": false, "domain": false, "title": null}},
   "y": {"field": "prev", "type": "quantitative", "axis": null},
   "y2": {"field": "rate"}
  }
 }
]
}
